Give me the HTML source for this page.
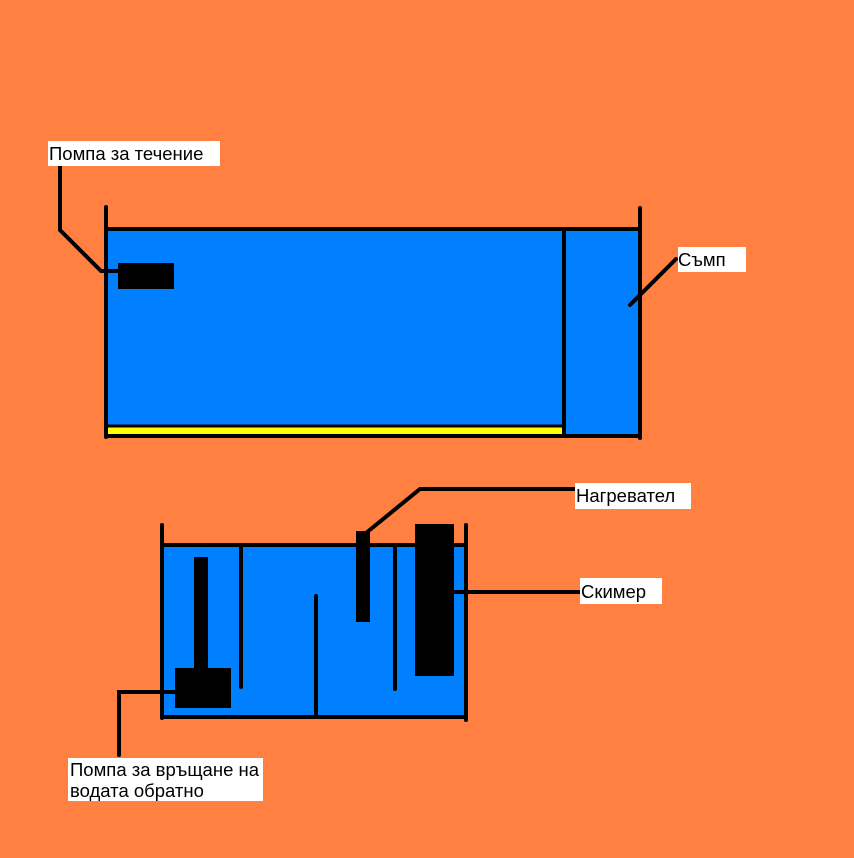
<!DOCTYPE html>
<html><head><meta charset="utf-8"><style>
html,body{margin:0;padding:0;background:#FF8040;}
svg{display:block}
text{font-family:"Liberation Sans",sans-serif;font-size:18.5px;fill:#000}
</style></head><body>
<svg width="854" height="858" viewBox="0 0 854 858" xmlns="http://www.w3.org/2000/svg">
<rect width="854" height="858" fill="#FF8040"/>
<!-- top tank -->
<rect x="106" y="229" width="534" height="207" fill="#0080FF"/>
<rect x="108" y="427" width="455" height="7" fill="#FFFF00"/>
<g stroke="#000" stroke-width="4" fill="none" stroke-linecap="round">
<line x1="106" y1="207" x2="106" y2="437"/>
<line x1="106" y1="229" x2="640" y2="229"/>
<line x1="640" y1="208" x2="640" y2="438"/>
<line x1="106" y1="436" x2="640" y2="436"/>
<line x1="564" y1="229" x2="564" y2="436"/>
<line x1="106" y1="426" x2="564" y2="426" stroke-width="3"/>
<polyline points="60,166 60,230 101,271 118,271"/>
<line x1="630" y1="305" x2="676" y2="259"/>
</g>
<rect x="118" y="263" width="56" height="26" fill="#000"/>
<rect x="48" y="141" width="172" height="25" fill="#fff"/>
<text x="49" y="160">Помпа за течение</text>
<rect x="678" y="247" width="68" height="25" fill="#fff"/>
<text x="678" y="266">Съмп</text>
<!-- bottom tank -->
<rect x="162" y="545" width="304" height="172" fill="#0080FF"/>
<g stroke="#000" stroke-width="4" fill="none" stroke-linecap="round">
<line x1="162" y1="525" x2="162" y2="718"/>
<line x1="466" y1="525" x2="466" y2="720"/>
<line x1="162" y1="545" x2="466" y2="545"/>
<line x1="162" y1="717" x2="466" y2="717"/>
<line x1="241" y1="545" x2="241" y2="687"/>
<line x1="316" y1="596" x2="316" y2="717"/>
<line x1="395" y1="545" x2="395" y2="689"/>
<polyline points="366,533 420,489 575,489"/>
<line x1="454" y1="592" x2="580" y2="592"/>
<polyline points="175,692 119,692 119,755"/>
</g>
<rect x="356" y="531" width="14" height="91" fill="#000"/>
<rect x="415" y="524" width="39" height="152" fill="#000"/>
<rect x="194" y="557" width="14" height="113" fill="#000"/>
<rect x="175" y="668" width="56" height="40" fill="#000"/>
<rect x="575" y="483" width="116" height="26" fill="#fff"/>
<text x="576" y="502">Нагревател</text>
<rect x="580" y="578" width="82" height="26" fill="#fff"/>
<text x="581" y="598">Скимер</text>
<rect x="68" y="758" width="195" height="43" fill="#fff"/>
<text x="70" y="776">Помпа за връщане на</text>
<text x="70" y="797">водата обратно</text>
</svg>
</body></html>
